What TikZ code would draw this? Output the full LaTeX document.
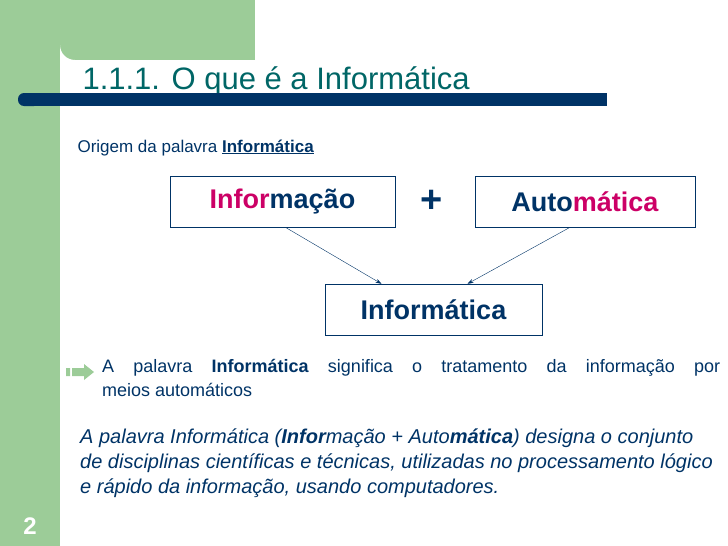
\documentclass[tikz,border=0pt]{standalone}
\usepackage{fontspec}
\setmainfont{Liberation Sans}
\usetikzlibrary{positioning,arrows.meta}
\definecolor{slgreen}{HTML}{9CCC98}
\definecolor{navy}{HTML}{003366}
\definecolor{teal1}{HTML}{006666}
\definecolor{pinkw}{HTML}{CC0066}
\begin{document}
\begin{tikzpicture}[x=1pt,y=-1pt,
  wordbox/.style={draw=navy, fill=white, minimum height=51pt, font=\fontsize{27}{30}\selectfont\bfseries},
  link/.style={-{Stealth[length=6pt,width=4pt]}, navy, thin}]
\useasboundingbox (0,0) rectangle (728,546);
% fundo
\fill[slgreen] (0,0) rectangle (255,60);
\fill[slgreen] (0,0) rectangle (60,546);
\fill[white] (60,75) -- (60,60) -- (75,60) arc[start angle=90, end angle=180, radius=15] -- cycle;
% titulo
\node[anchor=base west, text=teal1, font=\fontsize{31}{34}\selectfont] (title) at (79,89) {1.1.1. O que é a Informática};
\fill[navy, rounded corners=6pt] (18,93) rectangle (40,106);
\fill[navy] (30,93) rectangle (607,106);
\node[anchor=base west, text=navy, font=\fontsize{17}{19}\selectfont] (orig) at (74,152) {Origem da palavra \underline{\textbf{Informática}}};
% caixas
\node[wordbox, minimum width=225pt] (info) at (282.5,201.5) {\textcolor{pinkw}{Infor}\textcolor{navy}{mação}};
\node[wordbox, minimum width=220pt] (auto) at (585,201.5) {\textcolor{navy}{Auto}\textcolor{pinkw}{mática}};
\node[text=navy, font=\fontsize{38}{38}\selectfont\bfseries] (plus) at (432,201) {+};
\node[wordbox, minimum width=217pt] (infm) at (433.5,309.5) {\textcolor{navy}{Informática}};
\draw[link] ([xshift=-110pt]info.south east) -- ([xshift=-52pt]infm.north);
\draw[link] ([xshift=-125pt]auto.south east) -- ([xshift=34pt]infm.north);
% seta
\fill[slgreen] (66,368) rectangle (70,376) (72,368) rectangle (84,376) (84,364) -- (94,372) -- (84,380) -- cycle;
\node[anchor=north west, text=navy, align=left, font=\fontsize{18}{24}\selectfont, inner sep=0pt] (def) at (102,359) {\makebox[618pt][s]{A palavra \textbf{Informática} significa o tratamento da informação por}\\meios automáticos};
\node[anchor=north west, text=navy, align=left, font=\fontsize{20}{25}\selectfont\itshape, inner sep=0pt] (par) at (80,429) {A palavra Informática (\textbf{Infor}mação + Auto\textbf{mática}) designa o conjunto\\ de disciplinas científicas e técnicas, utilizadas no processamento lógico\\ e rápido da informação, usando computadores.};
\node[text=white, font=\fontsize{24}{24}\selectfont\bfseries] (num) at (30,526) {2};
\end{tikzpicture}
\end{document}
